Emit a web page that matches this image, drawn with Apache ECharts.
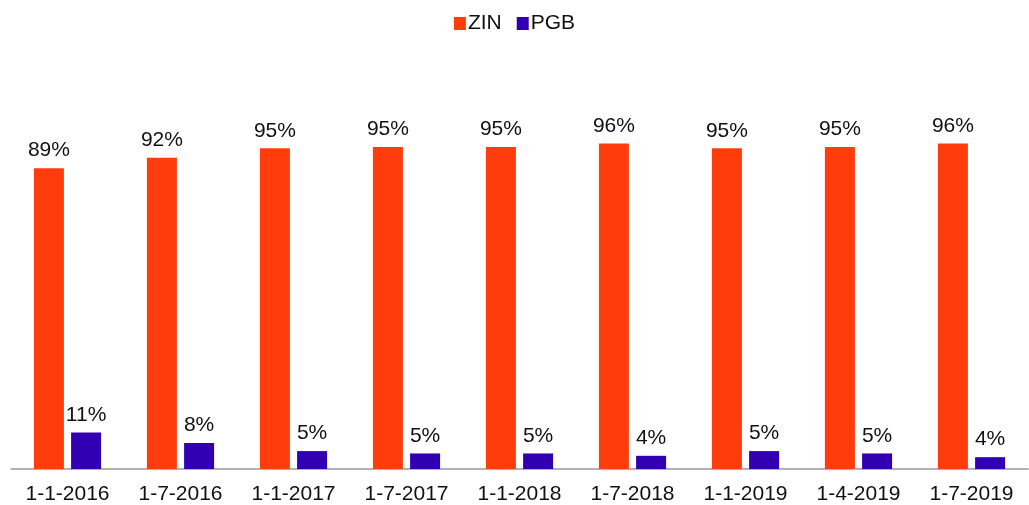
<!DOCTYPE html>
<html>
<head>
<meta charset="utf-8">
<script src="https://cdn.jsdelivr.net/npm/echarts@6/dist/echarts.min.js"></script>
<style>
  html, body { margin: 0; padding: 0; background: #fff; }
  #chart { width: 1029px; height: 505px; }
</style>
</head>
<body>
<div id="chart"></div>
<script>
  // data (percent)
  var categories = ['1-1-2016', '1-7-2016', '1-1-2017', '1-7-2017', '1-1-2018', '1-7-2018', '1-1-2019', '1-4-2019', '1-7-2019'];
  var zinValues = [89.0, 92.1, 94.9, 95.3, 95.3, 96.3, 94.9, 95.3, 96.3];
  var pgbValues = [10.8, 7.7, 5.3, 4.6, 4.6, 3.9, 5.3, 4.6, 3.5];
  var colors = ['#ff3c0c', '#3000b2'];

  var labelStyle = {
    show: true,
    position: 'top',
    distance: 7,
    color: '#111',
    fontFamily: 'Liberation Sans',
    fontSize: 21,
    formatter: function (p) { return Math.round(p.value) + '%'; }
  };

  var myChart = echarts.init(document.getElementById('chart'));
  myChart.setOption({
    animation: false,
    color: colors,
    legend: {
      top: 8,
      left: 'center',
      itemWidth: 12,
      itemHeight: 13,
      itemGap: 15,
      icon: 'rect',
      textStyle: { fontFamily: 'Liberation Sans', fontSize: 21, color: '#111', padding: [0, 0, 0, -3] },
      data: ['ZIN', 'PGB']
    },
    grid: { left: 11, right: 1, top: 131, bottom: 35, containLabel: false },
    xAxis: {
      type: 'category',
      data: categories,
      axisLine: { lineStyle: { color: '#999', width: 1.5 } },
      axisTick: { show: false },
      axisLabel: { margin: 15, color: '#111', fontFamily: 'Liberation Sans', fontSize: 21, interval: 0 }
    },
    yAxis: {
      type: 'value',
      min: 0,
      max: 100,
      show: false,
      splitLine: { show: false }
    },
    series: [
      { name: 'ZIN', type: 'bar', data: zinValues, barWidth: 30, barGap: '24%', label: labelStyle },
      { name: 'PGB', type: 'bar', data: pgbValues, barWidth: 30, barGap: '24%', label: labelStyle }
    ]
  });
</script>
</body>
</html>
